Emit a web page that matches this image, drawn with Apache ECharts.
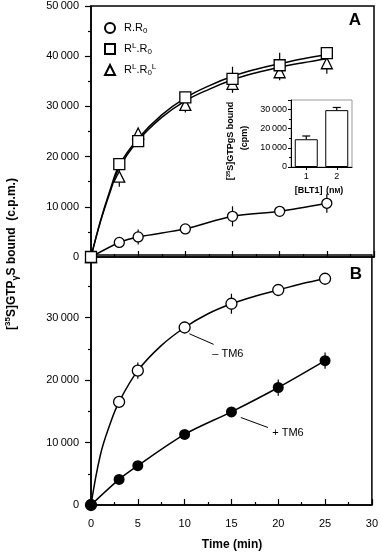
<!DOCTYPE html>
<html><head><meta charset="utf-8">
<script src="https://cdn.jsdelivr.net/npm/echarts@6/dist/echarts.min.js"></script>
<style>html,body{margin:0;padding:0;background:#fff}#c{width:381px;height:556px}</style>
</head><body><div id="c"></div>
<script>
// ---- data ----
const time = [0, 3, 5, 10, 15, 20, 25];
// panel A
const rR0 = [0, 2900, 4000, 5600, 8100, 9100, 10700];
const rR0Err = [0, 0, 1500, 0, 2000, 0, 1900];
const rLR0 = [0, 18500, 23100, 31800, 35500, 38200, 40600];
const rLR0Err = [0, 0, 0, 0, 2400, 2500, 0];
const rLR0L = [0, 16000, 24600, 30300, 34500, 36800, 38600];
const rLR0LErr = [0, 2000, 0, 1500, 1800, 1600, 2100];
// fitted curves
const curveTime = [0, 1, 2, 3, 5, 7.5, 10, 12.5, 15, 17.5, 20, 22.5, 25];
const rLR0Curve = [0, 7200, 13200, 18300, 23600, 28300, 31700, 34100, 36000, 37400, 38500, 39500, 40300];
const rLR0LCurve = [0, 7000, 12800, 17800, 23200, 27800, 31100, 33400, 35300, 36700, 37800, 38700, 39500];
// panel B
const minusTM6 = [0, 16500, 21500, 28400, 32200, 34400, 36200];
const minusTM6Err = [0, 0, 1300, 0, 1600, 0, 0];
const minusTM6Curve = [0, 8000, 12800, 16500, 21500, 25500, 28400, 30600, 32200, 33400, 34400, 35400, 36200];
const plusTM6 = [0, 4100, 6300, 11300, 14900, 18800, 23100];
const plusTM6Err = [0, 0, 0, 0, 0, 1300, 1300];
// inset
const insetCats = ['1', '2'];
const insetVals = [14500, 29700];
const insetErr = [1700, 1400];

const FONT = 'Liberation Sans';
const pairs = (xs, ys) => xs.map((x, i) => [x, ys[i]]);
const fmtK = v => {
  const s = String(v);
  return s.length > 3 ? s.slice(0, s.length - 3) + '\u2009' + s.slice(-3) : s;
};

function errSeries(xi, yi, xs, ys, es, cap, upOnly) {
  return {
    type: 'custom', xAxisIndex: xi, yAxisIndex: yi, z: 3, silent: true,
    data: xs.map((x, i) => [x, ys[i], es[i]]).filter(d => d[2] > 0),
    renderItem(params, api) {
      const x = api.value(0), y = api.value(1), e = api.value(2);
      const p1 = api.coord([x, upOnly ? y : y - e]);
      const p2 = api.coord([x, y + e]);
      const st = { stroke: '#000', lineWidth: 1.2 };
      const ch = [{ type: 'line', shape: { x1: p1[0], y1: p1[1], x2: p2[0], y2: p2[1] }, style: st }];
      if (cap) ch.push({ type: 'line', shape: { x1: p2[0] - cap, y1: p2[1], x2: p2[0] + cap, y2: p2[1] }, style: st });
      return { type: 'group', children: ch };
    }
  };
}

const open = { color: '#fff', borderColor: '#000', borderWidth: 1.3, opacity: 1 };
const lineSt = { color: '#000', width: 1.5 };

const yAxisBase = {
  type: 'value', interval: 10000, min: 0,
  axisLine: { show: true, lineStyle: { color: '#000', width: 1.5 } },
  axisTick: { show: true, inside: false, length: 6, lineStyle: { color: '#000', width: 1.2 } },
  minorTick: { show: true, splitNumber: 2, length: 3, lineStyle: { color: '#000', width: 1.2 } },
  splitLine: { show: false },
  axisLabel: { formatter: fmtK, fontSize: 11, fontFamily: FONT, color: '#000', margin: 12 }
};
const xAxisBase = {
  type: 'value', min: 0, max: 30, interval: 5,
  axisLine: { show: true, onZero: false, lineStyle: { color: '#000', width: 1.5 } },
  axisTick: { show: true, inside: true, length: 6, lineStyle: { color: '#000', width: 1.2 } },
  minorTick: { show: true, splitNumber: 2, length: 3, lineStyle: { color: '#000', width: 1.2 } },
  splitLine: { show: false },
  axisLabel: { fontSize: 11, fontFamily: FONT, color: '#000', margin: 13 }
};

const rich = {
  n: { fontSize: 11, fontFamily: FONT, lineHeight: 14, color: '#000' },
  sub: { fontSize: 8, fontFamily: FONT, verticalAlign: 'bottom', lineHeight: 14, color: '#000' },
  sup: { fontSize: 8, fontFamily: FONT, verticalAlign: 'top', lineHeight: 14, color: '#000' }
};
const legendText = {
  'R.R0': '{n|R.R}{sub|0}',
  'RL.R0': '{n|R}{sup|L}{n|.R}{sub|0}',
  'RL.R0L': '{n|R}{sup|L}{n|.R}{sub|0}{sup|L}'
};

const option = {
  animation: false,
  backgroundColor: '#fff',
  grid: [
    { left: 91, top: 6, width: 283, height: 251, show: true, borderColor: '#000', borderWidth: 1.5 },
    { left: 91, top: 255, width: 283, height: 250, show: true, borderColor: '#000', borderWidth: 1.5 },
    { left: 291, top: 100, width: 61, height: 67, show: true, borderColor: '#999', borderWidth: 1, backgroundColor: '#fff', z: 5 }
  ],
  xAxis: [
    Object.assign({}, xAxisBase, { gridIndex: 0, axisLabel: { show: false } }),
    Object.assign({}, xAxisBase, { gridIndex: 1 }),
    {
      type: 'category', gridIndex: 2, data: insetCats, z: 6,
      axisLine: { show: true, lineStyle: { color: '#000', width: 1 } },
      axisTick: { show: true, alignWithLabel: true, length: 3, lineStyle: { color: '#000' } },
      axisLabel: { fontSize: 9, fontFamily: FONT, color: '#000', margin: 5 }
    }
  ],
  yAxis: [
    Object.assign({}, yAxisBase, { gridIndex: 0, max: 50000 }),
    Object.assign({}, yAxisBase, { gridIndex: 1, max: 40000, axisLabel: Object.assign({}, yAxisBase.axisLabel, { showMaxLabel: false }) }),
    {
      type: 'value', gridIndex: 2, min: 0, max: 35000, interval: 10000, z: 6,
      axisLine: { show: true, lineStyle: { color: '#000', width: 1 } },
      axisTick: { show: true, length: 3, lineStyle: { color: '#000' } },
      minorTick: { show: true, splitNumber: 2, length: 2, lineStyle: { color: '#000' } },
      splitLine: { show: false },
      axisLabel: { formatter: fmtK, showMaxLabel: false, fontSize: 9, fontFamily: FONT, color: '#000', margin: 4 }
    }
  ],
  legend: {
    orient: 'vertical', left: 99, top: 17, itemGap: 7, itemWidth: 10, itemHeight: 10,
    data: [{ name: 'R.R0', icon: 'circle' }, { name: 'RL.R0', icon: 'rect' }, { name: 'RL.R0L', icon: 'triangle' }],
    formatter: n => legendText[n],
    textStyle: { rich: rich, padding: [0, 0, 0, 4] },
    selectedMode: false
  },
  series: [
    // panel A lines
    { type: 'line', name: 'R.R0 fit', xAxisIndex: 0, yAxisIndex: 0, data: pairs(time, rR0), smooth: 0.3, showSymbol: false, lineStyle: lineSt, z: 2, silent: true },
    { type: 'line', name: 'RL.R0 fit', xAxisIndex: 0, yAxisIndex: 0, data: pairs(curveTime, rLR0Curve), smooth: 0.4, showSymbol: false, lineStyle: lineSt, z: 2, silent: true },
    { type: 'line', name: 'RL.R0L fit', xAxisIndex: 0, yAxisIndex: 0, data: pairs(curveTime, rLR0LCurve), smooth: 0.4, showSymbol: false, lineStyle: lineSt, z: 2, silent: true },
    errSeries(0, 0, time, rR0, rR0Err),
    errSeries(0, 0, time, rLR0, rLR0Err),
    errSeries(0, 0, time, rLR0L, rLR0LErr),
    { type: 'scatter', name: 'RL.R0L', xAxisIndex: 0, yAxisIndex: 0, data: pairs(time, rLR0L), symbol: 'triangle', symbolSize: 11, itemStyle: open, z: 4, silent: true },
    { type: 'scatter', name: 'R.R0', xAxisIndex: 0, yAxisIndex: 0, data: pairs(time, rR0), symbol: 'circle', symbolSize: 10, itemStyle: open, z: 4, silent: true },
    { type: 'scatter', name: 'RL.R0', xAxisIndex: 0, yAxisIndex: 0, data: pairs(time, rLR0), symbol: 'rect', symbolSize: 11, itemStyle: open, z: 4, silent: true },
    // panel B
    { type: 'line', name: '-TM6 fit', xAxisIndex: 1, yAxisIndex: 1, data: pairs(curveTime, minusTM6Curve), smooth: 0.4, showSymbol: false, lineStyle: lineSt, z: 2, silent: true },
    { type: 'line', name: '+TM6 fit', xAxisIndex: 1, yAxisIndex: 1, data: pairs(time, plusTM6), smooth: 0.3, showSymbol: false, lineStyle: lineSt, z: 2, silent: true },
    errSeries(1, 1, time, minusTM6, minusTM6Err),
    errSeries(1, 1, time, plusTM6, plusTM6Err),
    {
      type: 'scatter', name: '– TM6', xAxisIndex: 1, yAxisIndex: 1, data: pairs(time, minusTM6), symbol: 'circle', symbolSize: 11, itemStyle: open, z: 4, silent: true,
      markLine: { silent: true, symbol: ['none', 'none'], label: { show: false }, lineStyle: { color: '#000', width: 1, type: 'solid' },
        data: [[{ coord: [10.5, 27400] }, { coord: [13.1, 25700] }]] },
      markPoint: { silent: true, symbol: 'circle', symbolSize: 1, itemStyle: { color: 'rgba(0,0,0,0)' },
        label: { show: true, position: 'right', distance: 0, formatter: '– TM6', fontSize: 11, fontFamily: FONT, color: '#000' },
        data: [{ coord: [12.9, 24200] }] }
    },
    {
      type: 'scatter', name: '+ TM6', xAxisIndex: 1, yAxisIndex: 1, data: pairs(time, plusTM6), symbol: 'circle', symbolSize: 11, itemStyle: { color: '#000', opacity: 1 }, z: 4, silent: true,
      markLine: { silent: true, symbol: ['none', 'none'], label: { show: false }, lineStyle: { color: '#000', width: 1, type: 'solid' },
        data: [[{ coord: [16.0, 14000] }, { coord: [18.9, 12400] }]] },
      markPoint: { silent: true, symbol: 'circle', symbolSize: 1, itemStyle: { color: 'rgba(0,0,0,0)' },
        label: { show: true, position: 'right', distance: 0, formatter: '+ TM6', fontSize: 11, fontFamily: FONT, color: '#000' },
        data: [{ coord: [19.3, 11500] }] }
    },
    // inset
    { type: 'bar', xAxisIndex: 2, yAxisIndex: 2, data: insetVals, barWidth: 23, itemStyle: { color: '#fff', borderColor: '#000', borderWidth: 1, opacity: 1 }, z: 6, silent: true },
    Object.assign(errSeries(2, 2, [0, 1], insetVals, insetErr, 4, true), { z: 7 })
  ],
  graphic: [
    { type: 'text', x: 12, y: 254, rotation: Math.PI / 2, z: 10,
      style: { text: '{b|[}{s|35}{b|S]GTP}{g|γ}{b|S bound  (c.p.m.)}', align: 'center', verticalAlign: 'middle',
        rich: {
          b: { fontSize: 12, fontWeight: 'bold', fontFamily: FONT, lineHeight: 16, fill: '#000' },
          s: { fontSize: 8, fontWeight: 'bold', fontFamily: FONT, verticalAlign: 'top', lineHeight: 16, fill: '#000' },
          g: { fontSize: 9, fontWeight: 'bold', fontFamily: FONT, verticalAlign: 'bottom', lineHeight: 16, fill: '#000' }
        } } },
    { type: 'text', x: 232, y: 545, z: 10,
      style: { text: 'Time (min)', font: 'bold 12px ' + FONT, fill: '#000', align: 'center', verticalAlign: 'middle' } },
    { type: 'text', x: 355, y: 20, z: 10,
      style: { text: 'A', font: 'bold 17px ' + FONT, fill: '#000', align: 'center', verticalAlign: 'middle' } },
    { type: 'text', x: 356, y: 274, z: 10,
      style: { text: 'B', font: 'bold 17px ' + FONT, fill: '#000', align: 'center', verticalAlign: 'middle' } },
    // inset titles
    { type: 'text', x: 231, y: 141, rotation: Math.PI / 2, z: 10,
      style: { text: '{b|[}{s|35}{b|S]GTPgS bound}', align: 'center', verticalAlign: 'middle',
        rich: {
          b: { fontSize: 9, fontWeight: 'bold', fontFamily: FONT, lineHeight: 12, fill: '#000' },
          s: { fontSize: 6, fontWeight: 'bold', fontFamily: FONT, verticalAlign: 'top', lineHeight: 12, fill: '#000' }
        } } },
    { type: 'text', x: 245, y: 138, rotation: Math.PI / 2, z: 10,
      style: { text: '(cpm)', font: 'bold 9px ' + FONT, fill: '#000', align: 'center', verticalAlign: 'middle' } },
    { type: 'text', x: 319, y: 191, z: 10,
      style: { text: '{b|[BLT1]} {m|(n}{k|M}{m|)}', align: 'center', verticalAlign: 'middle',
        rich: {
          b: { fontSize: 9, fontWeight: 'bold', fontFamily: FONT, fill: '#000' },
          m: { fontSize: 9, fontWeight: 'bold', fontFamily: FONT, fill: '#000' },
          k: { fontSize: 7, fontWeight: 'bold', fontFamily: FONT, fill: '#000' }
        } } }
  ]
};

const chart = echarts.init(document.getElementById('c'), null, { renderer: 'canvas' });
chart.setOption(option);
</script>
</body></html>
